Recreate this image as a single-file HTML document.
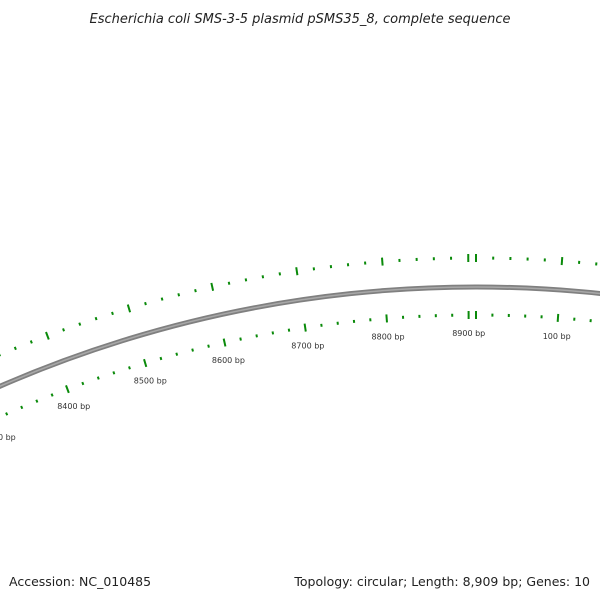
<!DOCTYPE html>
<html><head><meta charset="utf-8"><style>
body{margin:0;background:#fff}
svg{display:block}
text{font-family:"DejaVu Sans","Liberation Sans",sans-serif}
</style></head><body>
<svg id="map" width="600" height="600" viewBox="0 0 600 600" xmlns="http://www.w3.org/2000/svg">
<defs>
<linearGradient id="bb" x1="0" y1="0" x2="0" y2="1">
<stop offset="0" stop-color="#aaa"/><stop offset="0.5" stop-color="#777"/><stop offset="1" stop-color="#999"/>
</linearGradient>
</defs>
<text x="300" y="23" text-anchor="middle" font-size="13" font-style="italic" fill="#222">Escherichia coli SMS-3-5 plasmid pSMS35_8, complete sequence</text>
<g id="backbone"></g>
<g id="ticks"></g>
<g id="labels"></g>
<text x="9" y="586" font-size="12.5" fill="#222">Accession: NC_010485</text>
<text x="590" y="586" text-anchor="end" font-size="12.5" fill="#222">Topology: circular; Length: 8,909 bp; Genes: 10</text>
</svg>
<script>
const seqLength = 8909;
const majorTicks = [8300, 8400, 8500, 8600, 8700, 8800, 8900, 0, 100, 200];
const majorLabels = ["8300 bp","8400 bp","8500 bp","8600 bp","8700 bp","8800 bp","8900 bp","","100 bp","200 bp"];
const minorStep = 20;

const CX = 476, CY = 1478;
const R_BB = 1191, R_IN = 1163, R_OUT = 1220, R_LAB = 1145;
const NS = "http://www.w3.org/2000/svg";
function ang(bp){ return bp / seqLength * 2 * Math.PI; }
function pt(bp, r){ const a = ang(bp); return [CX + r*Math.sin(a), CY - r*Math.cos(a)]; }
function mk(tag, attrs, parent){ const e = document.createElementNS(NS, tag); for (const k in attrs) e.setAttribute(k, attrs[k]); parent.appendChild(e); return e; }

// backbone
const bbG = document.getElementById('backbone');
const p0 = pt(-700, R_BB), p1 = pt(400, R_BB);
const bb = mk('path', {d:`M${p0[0]},${p0[1]} A${R_BB},${R_BB} 0 0 1 ${p1[0]},${p1[1]}`, fill:'none', stroke:'#808080', 'stroke-width':5}, bbG);


const bb2 = mk('path', {d:`M${p0[0]},${p0[1]} A${R_BB},${R_BB} 0 0 1 ${p1[0]},${p1[1]}`, fill:'none', stroke:'#a8a8a8', 'stroke-width':1.5}, bbG);



// ticks
const tG = document.getElementById('ticks');
function tick(bp, r, len, w){
  const a = pt(bp, r - len/2), b = pt(bp, r + len/2);
  const l = mk('line', {x1:a[0], y1:a[1], x2:b[0], y2:b[1], stroke:'#0a8a0a', 'stroke-width':w}, tG);
  
  
}
for (let bp = 8200; bp < seqLength; bp += minorStep) { if (bp % 100) { tick(bp, R_IN, 3, 2); tick(bp, R_OUT, 3, 2); } }
for (let bp = 0; bp < 400; bp += minorStep) { if (bp % 100) { tick(bp, R_IN, 3, 2); tick(bp, R_OUT, 3, 2); } }
majorTicks.forEach(bp => { tick(bp, R_IN, 8, 2); tick(bp, R_OUT, 8, 2); });

// labels
const lG = document.getElementById('labels');
majorTicks.forEach((bp, i) => {
  if (!majorLabels[i]) return;
  const p = pt(bp, R_LAB);
  const t = mk('text', {x:p[0], y:p[1]+3, 'text-anchor':'middle', 'font-size':8, fill:'#333'}, lG);
  
  
  t.textContent = majorLabels[i];
});
</script>
</body></html>
